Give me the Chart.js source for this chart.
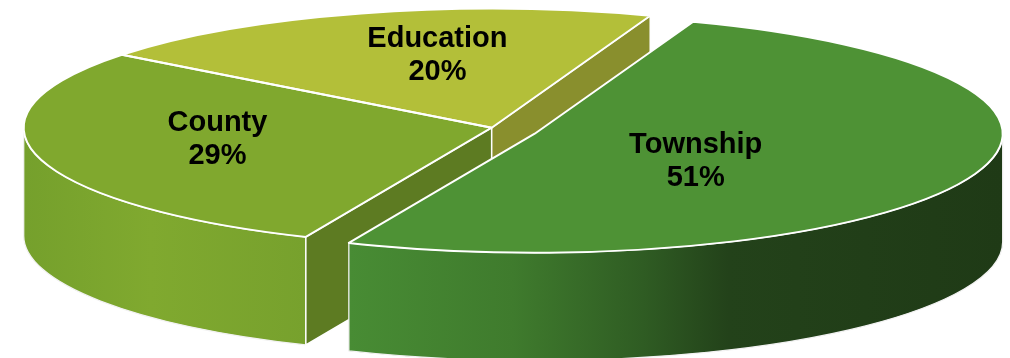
<!DOCTYPE html>
<html>
<head>
<meta charset="utf-8">
<script src="https://cdn.jsdelivr.net/npm/chart.js@4/dist/chart.umd.min.js"></script>
<style>
html, body { margin: 0; padding: 0; background: #fff; overflow: hidden; }
#wrap { position: relative; width: 1010px; height: 358px; }
</style>
</head>
<body>
<div id="wrap"><canvas id="pie"></canvas></div>
<script>
// data
var sectors = ['Township', 'County', 'Education'];
var shares = [51, 29, 20];

// look of each slice
var topColors = ['#4e9235', '#80a82e', '#b3bf39'];
var cutColors = ['#3f7a2c', '#5d7b22', '#898f2d'];
var sideStops = [
    [[0, '#488c34'], [0.25, '#3f7b2d'], [0.45, '#2f5c23'], [0.58, '#23421a'], [1, '#1f3a16']],
    [[0, '#75a02c'], [0.45, '#80a92f'], [1, '#77a12d']],
    [[0, '#a9b535'], [1, '#a9b535']]
];
var explode = [[43, 6], [0, 0], [0, 0]];          // screen shift of a pulled-out slice
var labelSpots = [[0.344, 0.218], [-0.586, 0.080], [-0.116, -0.628]];  // in slice radii

// ellipse of the top face, and the height of the cake
var CX = 491.7, CY = 127.7, RX = 468, RY = 119, DEPTH = 108;

function frontParts(a0, a1) {
    //only the part of the rim facing us (sin > 0) is drawn
    var parts = [];
    for (var k = -1; k <= 1; k++) {
        var lo = Math.max(a0, 2 * Math.PI * k);
        var hi = Math.min(a1, 2 * Math.PI * k + Math.PI);
        if (hi > lo) parts.push([lo, hi]);
    }
    return parts;
}

function gradientFor(ctx, cx, a0, a1, stops) {
    var xs = [cx + RX * Math.cos(a0), cx + RX * Math.cos(a1)];
    for (var k = -1; k <= 2; k++) {
        var e = Math.PI * k;
        if (e > a0 && e < a1) xs.push(cx + RX * Math.cos(e));
    }
    var g = ctx.createLinearGradient(Math.min.apply(null, xs), 0, Math.max.apply(null, xs), 0);
    stops.forEach(function(s) { g.addColorStop(s[0], s[1]); });
    return g;
}

function drawSide(ctx, cx, cy, a0, a1, stops) {
    ctx.beginPath();
    ctx.ellipse(cx, cy, RX, RY, 0, a0, a1);
    ctx.ellipse(cx, cy + DEPTH, RX, RY, 0, a1, a0, true);
    ctx.closePath();
    ctx.fillStyle = gradientFor(ctx, cx, a0, a1, stops);
    ctx.fill();
    ctx.strokeStyle = '#f2f2f2';
    ctx.lineWidth = 1.3;
    ctx.stroke();
}

function drawCut(ctx, cx, cy, a, color) {
    var px = cx + RX * Math.cos(a), py = cy + RY * Math.sin(a);
    ctx.beginPath();
    ctx.moveTo(cx, cy);
    ctx.lineTo(px, py);
    ctx.lineTo(px, py + DEPTH);
    ctx.lineTo(cx, cy + DEPTH);
    ctx.closePath();
    ctx.fillStyle = color;
    ctx.fill();
    ctx.strokeStyle = '#ffffff';
    ctx.lineWidth = 1.5;
    ctx.stroke();
}

var pie3d = {
    id: 'pie3d',
    beforeDatasetsDraw: function(chart) {
        var ctx = chart.ctx;
        var arcs = chart.getDatasetMeta(0).data;
        var n = arcs.length;
        var total = shares.reduce(function(a, b) { return a + b; }, 0);

        //back group first (least shifted toward us), pulled slices last
        var order = arcs.map(function(a, i) { return i; });
        order.sort(function(a, b) { return explode[a][1] - explode[b][1]; });

        var groups = {};
        order.forEach(function(i) {
            var key = explode[i].join(',');
            (groups[key] = groups[key] || []).push(i);
        });

        Object.keys(groups).sort(function(a, b) {
            return +a.split(',')[1] - +b.split(',')[1];
        }).forEach(function(key) {
            var idx = groups[key];
            //walls
            idx.forEach(function(i) {
                var arc = arcs[i];
                var cx = CX + explode[i][0], cy = CY + explode[i][1];
                frontParts(arc.startAngle, arc.endAngle).forEach(function(p) {
                    drawSide(ctx, cx, cy, p[0], p[1], sideStops[i]);
                });
                var prev = (i - 1 + n) % n, next = (i + 1) % n;
                if (explode[prev].join(',') != key && Math.cos(arc.startAngle) < 0) {
                    drawCut(ctx, cx, cy, arc.startAngle, cutColors[i]);
                }
                if (explode[next].join(',') != key && Math.cos(arc.endAngle) > 0) {
                    drawCut(ctx, cx, cy, arc.endAngle, cutColors[i]);
                }
            });
            //tops, drawn by the arc element itself, squeezed into the ellipse
            idx.forEach(function(i) {
                var arc = arcs[i];
                ctx.save();
                ctx.translate(CX + explode[i][0], CY + explode[i][1]);
                ctx.scale(RX / arc.outerRadius, RY / arc.outerRadius);
                ctx.translate(-arc.x, -arc.y);
                arc.draw(ctx);
                ctx.restore();
            });
            //white edges of the tops
            idx.forEach(function(i) {
                var arc = arcs[i];
                var cx = CX + explode[i][0], cy = CY + explode[i][1];
                ctx.beginPath();
                ctx.moveTo(cx, cy);
                ctx.lineTo(cx + RX * Math.cos(arc.startAngle), cy + RY * Math.sin(arc.startAngle));
                ctx.ellipse(cx, cy, RX, RY, 0, arc.startAngle, arc.endAngle);
                ctx.closePath();
                ctx.strokeStyle = '#ffffff';
                ctx.lineWidth = 2;
                ctx.lineJoin = 'round';
                ctx.stroke();
            });
        });

        //labels
        ctx.save();
        ctx.font = 'bold 29px "Liberation Sans", Arial, sans-serif';
        ctx.fillStyle = '#000000';
        ctx.textAlign = 'center';
        ctx.textBaseline = 'alphabetic';
        arcs.forEach(function(arc, i) {
            var x = CX + explode[i][0] + labelSpots[i][0] * RX;
            var y = CY + explode[i][1] + labelSpots[i][1] * RY;
            var pct = Math.round(shares[i] / total * 100) + '%';
            ctx.fillText(sectors[i], x, y - 6.25);
            ctx.fillText(pct, x, y + 26.75);
        });
        ctx.restore();
        return false;
    }
};

new Chart(document.getElementById('pie'), {
    type: 'pie',
    data: {
        labels: sectors,
        datasets: [{
            data: shares,
            backgroundColor: topColors,
            borderWidth: 0
        }]
    },
    options: {
        responsive: true,
        maintainAspectRatio: false,
        animation: false,
        rotation: 19.8,
        layout: { padding: 0 },
        events: [],
        plugins: {
            legend: { display: false },
            tooltip: { enabled: false }
        }
    },
    plugins: [pie3d]
});
</script>
</body>
</html>
